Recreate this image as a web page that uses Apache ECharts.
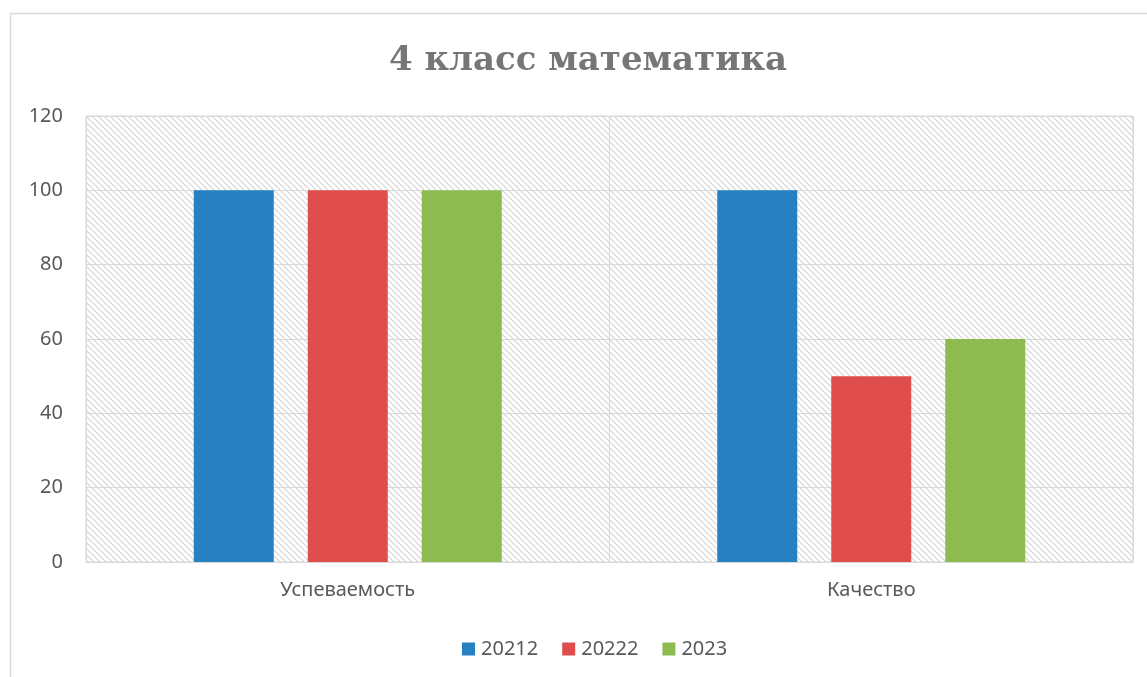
<!DOCTYPE html>
<html>
<head>
<meta charset="utf-8">
<script src="https://cdn.jsdelivr.net/npm/echarts@6/dist/echarts.min.js"></script>
<style>
  html, body { margin: 0; padding: 0; background: #fff; }
  #chart { width: 1147px; height: 677px; }
</style>
</head>
<body>
<div id="chart"></div>
<script>
const categories = ['Успеваемость', 'Качество'];
const seriesNames = ['20212', '20222', '2023'];
const values2021 = [100, 100];
const values2022 = [100, 50];
const values2023 = [100, 60];
const colors = ['#2680C2', '#E04D4D', '#8DBB50'];

// diagonal hatch for the plot background
function hatch() {
    const s = 6;
    const c = document.createElement('canvas');
    c.width = s;
    c.height = s;
    const ctx = c.getContext('2d');
    ctx.fillStyle = '#fff';
    ctx.fillRect(0, 0, s, s);
    ctx.strokeStyle = '#d4d4d4';
    ctx.lineWidth = 1.2;
    ctx.beginPath();
    ctx.moveTo(-1, -1); ctx.lineTo(s + 1, s + 1);
    ctx.moveTo(-1, s - 1); ctx.lineTo(1, s + 1);
    ctx.moveTo(s - 1, -1); ctx.lineTo(s + 1, 1);
    ctx.stroke();
    return c;
}

const chart = echarts.init(document.getElementById('chart'));
const label = { color: '#595959', fontFamily: 'Noto Sans', fontSize: 20 };

chart.setOption({
    animation: false,
    color: colors,
    title: {
        text: '4 класс математика',
        left: 384,
        top: 39,
        textStyle: {
            fontFamily: 'DejaVu Serif',
            fontWeight: 'bold',
            fontSize: 34,
            color: '#767676'
        }
    },
    graphic: [{
        type: 'rect',
        shape: { x: 10.5, y: 13.5, width: 1150, height: 700 },
        style: { fill: 'none', stroke: '#d9d9d9', lineWidth: 1.5 },
        silent: true
    }],
    legend: {
        top: 634,
        left: 457,
        itemWidth: 13,
        itemHeight: 13,
        itemGap: 24,
        icon: 'rect',
        textStyle: { color: '#595959', fontFamily: 'Noto Sans', fontSize: 20, padding: [0, 0, 0, 1] }
    },
    grid: {
        left: 86,
        right: 14,
        top: 116,
        bottom: 115,
        show: true,
        borderColor: '#d9d9d9',
        borderWidth: 1,
        backgroundColor: { image: hatch(), repeat: 'repeat' }
    },
    xAxis: {
        type: 'category',
        data: categories,
        axisLine: { lineStyle: { color: '#d9d9d9' } },
        axisTick: { show: false },
        splitLine: { show: true, lineStyle: { color: '#d9d9d9' } },
        axisLabel: Object.assign({ margin: 18 }, label)
    },
    yAxis: {
        type: 'value',
        min: 0,
        max: 120,
        interval: 20,
        axisLine: { show: false },
        axisTick: { show: false },
        splitLine: { lineStyle: { color: '#d9d9d9' } },
        axisLabel: Object.assign({ margin: 23 }, label)
    },
    series: [
        { name: seriesNames[0], type: 'bar', data: values2021, barWidth: 80, barGap: '42.5%' },
        { name: seriesNames[1], type: 'bar', data: values2022, barWidth: 80, barGap: '42.5%' },
        { name: seriesNames[2], type: 'bar', data: values2023, barWidth: 80, barGap: '42.5%' }
    ]
});
</script>
</body>
</html>
